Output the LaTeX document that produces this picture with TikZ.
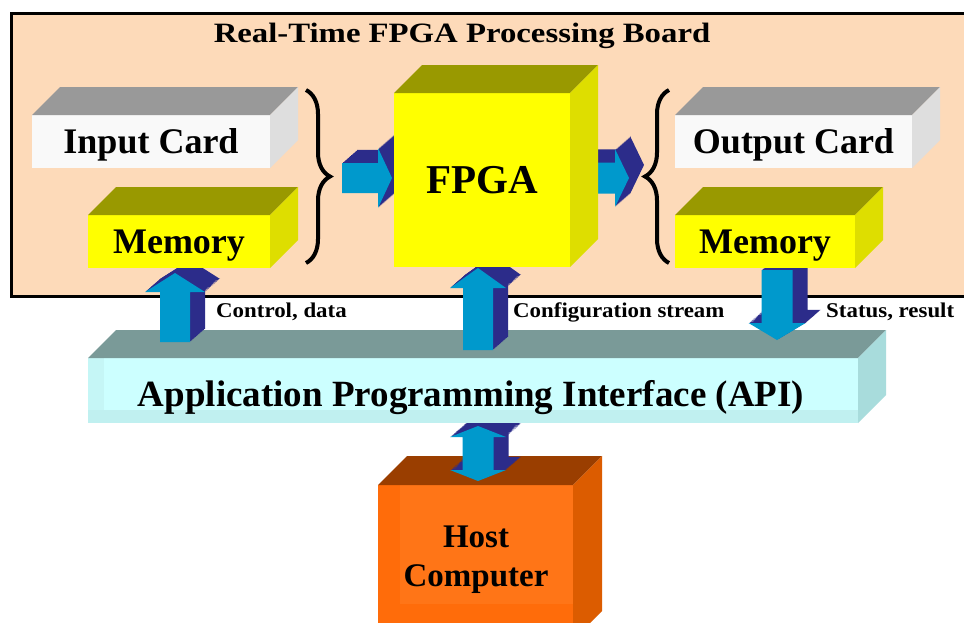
\documentclass[tikz,border=0pt]{standalone}
\usepackage{fontspec}
\setmainfont{Liberation Serif}
\usetikzlibrary{decorations.pathreplacing,calc}

\definecolor{boardfill}{HTML}{FDDAB9}
\definecolor{cardfrontc}{HTML}{F9F9F9}
\definecolor{cardtopc}{HTML}{999999}
\definecolor{cardsidec}{HTML}{DEDEDE}
\definecolor{yelfrontc}{HTML}{FFFF00}
\definecolor{yeltopc}{HTML}{999900}
\definecolor{yelsidec}{HTML}{DEDE00}
\definecolor{apifrontc}{HTML}{CCFFFF}
\definecolor{apibevelc}{HTML}{C0F0F0}
\definecolor{apitopc}{HTML}{7A9A98}
\definecolor{apisidec}{HTML}{A8DCDC}
\definecolor{hostfrontc}{HTML}{FF6C0A}
\definecolor{hostinnerc}{HTML}{FF7517}
\definecolor{hosttopc}{HTML}{9A3E00}
\definecolor{hostsidec}{HTML}{DC5C00}
\definecolor{arrowcyan}{HTML}{0099CC}
\definecolor{arrownavy}{HTML}{2C2C8A}

\pgfdeclarelayer{boardlayer}
\pgfdeclarelayer{hostlayer}
\pgfdeclarelayer{apilayer}
\pgfdeclarelayer{arrowlayer}
\pgfsetlayers{boardlayer,hostlayer,apilayer,arrowlayer,main}

% top and right faces of a box whose front face is node #1
\newcommand\drawcuboid[4]{%
  \fill[#2] (#1.north west) -- ++(#4,-#4) -- ([shift={(#4,-#4)}]#1.north east) -- (#1.north east) -- cycle;
  \fill[#3] (#1.north east) -- ++(#4,-#4) -- ([shift={(#4,-#4)}]#1.south east) -- (#1.south east) -- cycle;
}

% extruded block arrow: #1 tip coordinate, #2 rotation, #3 outline style
\newcommand\blockarrow[3]{%
  \foreach \k in {15,14,...,1}{
    \fill[arrownavy, shift={($(#1)+(\k,-0.87*\k)$)}, rotate=#2, #3];
  }
  \fill[arrowcyan, shift={(#1)}, rotate=#2, #3];
}

\tikzset{
  facebox/.style={inner sep=0pt, outer sep=0pt, draw=none, text=black, text depth=0pt,
    font=\fontsize{36}{40}\selectfont\bfseries},
  cardfront/.style={facebox, fill=cardfrontc},
  yelfront/.style={facebox, fill=yelfrontc},
  lbl/.style={inner sep=0pt, font=\fontsize{21}{25}\selectfont\bfseries},
  bracestyle/.style={line width=4pt, decorate, decoration={brace, amplitude=24pt}},
  uparr/.style n args={4}{insert path={(0,0) -- (#1,#2) -- (#3,#2) -- (#3,#4)
      -- (-#3,#4) -- (-#3,#2) -- (-#1,#2) -- cycle}},
  dblarr/.style n args={4}{insert path={(0,0) -- (#1,#2) -- (#3,#2) -- ({#3},{#4-#2})
      -- ({#1},{#4-#2}) -- (0,#4) -- ({-#1},{#4-#2}) -- ({-#3},{#4-#2})
      -- (-#3,#2) -- (-#1,#2) -- cycle}},
}

\begin{document}
\begin{tikzpicture}[x=1pt,y=-1pt]
\useasboundingbox (0,0) rectangle (964,622);

% board
\begin{pgfonlayer}{boardlayer}
  \fill[white] (0,0) rectangle (964,622);
  \draw[line width=3pt, fill=boardfill] (11,13) rectangle (990,296);
\end{pgfonlayer}

\node[font=\fontsize{28}{32}\selectfont\bfseries] (title) at (462,36)
  {\scalebox{1.17}[1]{Real-Time FPGA Processing Board}};

% board components
\node[cardfront, minimum width=238pt, minimum height=53pt] (incard) at (151,141.5) {Input Card};
\drawcuboid{incard}{cardtopc}{cardsidec}{28}
\node[yelfront, minimum width=182pt, minimum height=53pt] (memL) at (179,241.5) {Memory};
\drawcuboid{memL}{yeltopc}{yelsidec}{28}
\node[yelfront, minimum width=176pt, minimum height=174pt,
      font=\fontsize{41}{45}\selectfont\bfseries] (fpga) at (482,180) {FPGA};
\drawcuboid{fpga}{yeltopc}{yelsidec}{28}
\node[cardfront, minimum width=237pt, minimum height=53pt] (outcard) at (793.5,141.5) {Output Card};
\drawcuboid{outcard}{cardtopc}{cardsidec}{28}
\node[yelfront, minimum width=180pt, minimum height=53pt] (memR) at (765,241.5) {Memory};
\drawcuboid{memR}{yeltopc}{yelsidec}{28}

% braces grouping the cards
\draw[bracestyle] (306,90) -- (306,263);
\draw[bracestyle] (669,263) -- (669,90);

% host computer
\begin{pgfonlayer}{hostlayer}
  \node[facebox, fill=hostfrontc, minimum width=195pt, minimum height=155pt] (host) at (475.5,562.5) {};
  \fill[hostinnerc] (400,485) rectangle (573,604);
  \drawcuboid{host}{hosttopc}{hostsidec}{29}
  \node[font=\fontsize{33}{39}\selectfont\bfseries, align=center] (hosttext) at (476,560) {Host\\Computer};
  \coordinate (tipD) at (478,426);
  \blockarrow{tipD}{0}{dblarr={28}{11}{15.5}{55}}
\end{pgfonlayer}

% application programming interface
\begin{pgfonlayer}{apilayer}
  \node[facebox, fill=apifrontc, minimum width=770pt, minimum height=65pt] (api) at (473,390.5) {};
  \fill[apibevelc] (88,410) rectangle (858,423);
  \fill[apibevelc!60!apifrontc] (88,358) rectangle (104,410);
  \drawcuboid{api}{apitopc}{apisidec}{28}
  \node[font=\fontsize{37}{42}\selectfont\bfseries, text depth=0pt] (apitext) at (471,393)
    {Application Programming Interface (API)};
\end{pgfonlayer}

% data flow arrows
\begin{pgfonlayer}{arrowlayer}
  \coordinate (tipA) at (175,273);
  \coordinate (tipB) at (478,268);
  \coordinate (tipC) at (777,340);
  \coordinate (tipL) at (392,178);
  \coordinate (tipR) at (629,178);
  \blockarrow{tipA}{0}{uparr={30}{19}{15}{69}}
  \blockarrow{tipB}{0}{uparr={28}{20}{15}{82}}
  \blockarrow{tipC}{180}{uparr={28.5}{17}{15.5}{70}}
  \blockarrow{tipL}{-90}{uparr={30}{14}{15}{50}}
  \blockarrow{tipR}{-90}{uparr={29}{14}{15.5}{54}}
\end{pgfonlayer}

% arrow labels
\node[lbl, anchor=west] (lblA) at (216,312) {\scalebox{1.09}[1]{Control, data}};
\node[lbl, anchor=west] (lblB) at (513,312) {\scalebox{1.09}[1]{Configuration stream}};
\node[lbl, anchor=west] (lblC) at (826,312) {\scalebox{1.09}[1]{Status, result}};
\end{tikzpicture}
\end{document}
